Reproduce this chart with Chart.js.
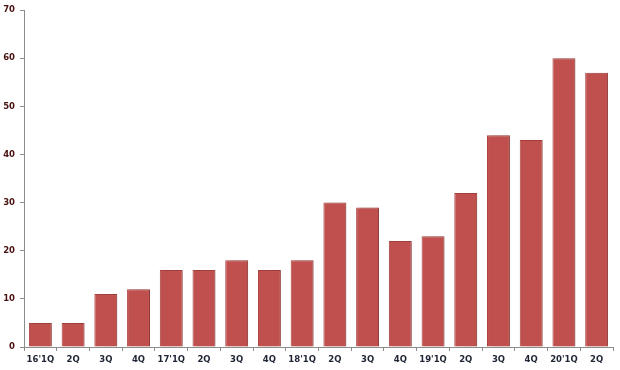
<!DOCTYPE html>
<html>
<head>
<meta charset="utf-8">
<script src="https://cdn.jsdelivr.net/npm/chart.js@4"></script>
<style>
html,body{margin:0;padding:0;background:#fff;}
#wrap{width:620px;height:370px;position:relative;}
</style>
</head>
<body>
<div id="wrap"><canvas id="c"></canvas></div>
<script>
const categories = ["16'1Q","2Q","3Q","4Q","17'1Q","2Q","3Q","4Q","18'1Q","2Q","3Q","4Q","19'1Q","2Q","3Q","4Q","20'1Q","2Q"];
const values = [5,5,11,12,16,16,18,16,18,30,29,22,23,32,44,43,60,57];
const yTicks = [0,10,20,30,40,50,60,70];

const shadowPlugin = {
  id: 'barShadow',
  beforeDatasetsDraw(chart) {
    const ctx = chart.ctx;
    ctx.save();
    ctx.shadowColor = 'rgba(0,0,0,0.16)';
    ctx.shadowOffsetX = 3;
    ctx.shadowOffsetY = 0;
    ctx.shadowBlur = 2;
  },
  afterDatasetsDraw(chart) {
    chart.ctx.restore();
  }
};

new Chart(document.getElementById('c'), {
  type: 'bar',
  data: {
    labels: categories,
    datasets: [{
      data: values,
      backgroundColor: '#c0504d',
      borderColor: '#a8423f',
      borderWidth: 1,
      barPercentage: 0.7,
      categoryPercentage: 1.0
    }]
  },
  options: {
    responsive: true,
    maintainAspectRatio: false,
    animation: false,
    layout: { padding: { top: 8, right: 7, left: 0, bottom: 0 } },
    plugins: { legend: { display: false }, tooltip: { enabled: false } },
    scales: {
      x: {
        grid: { drawOnChartArea: false, drawTicks: true, tickLength: 4, color: '#8c8c8c', offset: true },
        border: { color: '#8c8c8c', width: 1 },
        ticks: {
          color: '#1e2433', padding: 4, maxRotation: 0, autoSkip: false,
          font: { family: 'DejaVu Sans', size: 8.5, weight: 'bold' }
        },
        afterFit(scale) { scale.height = 23; }
      },
      y: {
        min: 0, max: 70,
        afterBuildTicks(scale) { scale.ticks = yTicks.map(v => ({ value: v })); },
        grid: { drawOnChartArea: false, drawTicks: true, tickLength: 4, color: '#8c8c8c' },
        border: { color: '#8c8c8c', width: 1 },
        ticks: {
          color: '#4a1212', padding: 5,
          font: { family: 'DejaVu Sans', size: 8.5, weight: 'bold' }
        },
        afterFit(scale) { scale.width = 24; }
      }
    }
  },
  plugins: [shadowPlugin]
});
</script>
</body>
</html>
